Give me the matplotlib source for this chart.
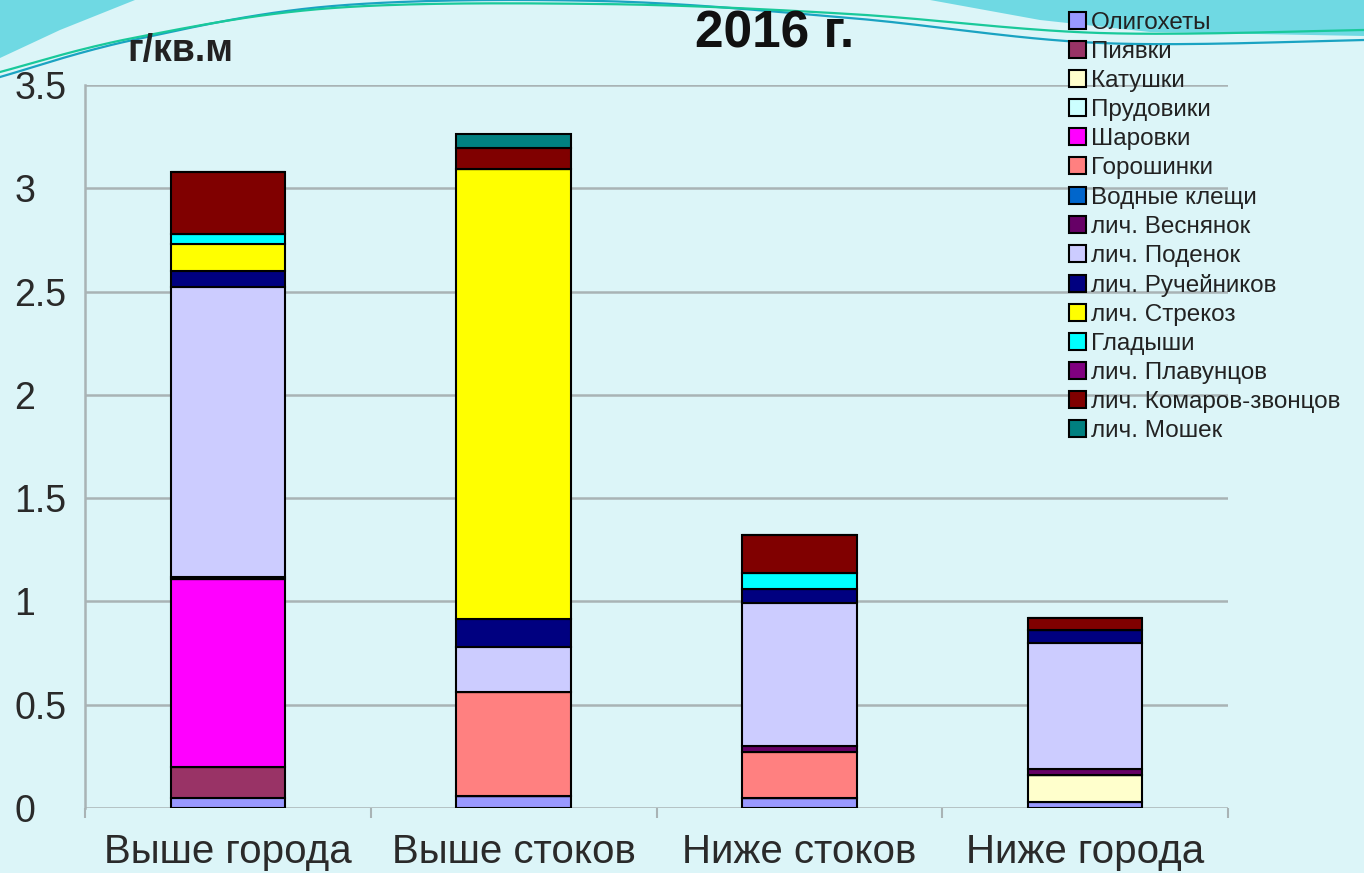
"""Stacked bar chart: biomass of benthic groups, 2016 (г/кв.м)."""
import numpy as np
import matplotlib

matplotlib.use("Agg")
import matplotlib.pyplot as plt  # noqa: E402
from matplotlib.lines import Line2D  # noqa: E402
from matplotlib.patches import Polygon  # noqa: E402

plt.rcParams["font.family"] = ["Liberation Sans", "DejaVu Sans"]

# --- data -----------------------------------------------------------------
sites = ["Выше города", "Выше стоков", "Ниже стоков", "Ниже города"]

oligochaeta = [0.05, 0.06, 0.05, 0.03]
leeches = [0.15, 0.0, 0.0, 0.0]
planorbis = [0.0, 0.0, 0.0, 0.13]
lymnaea = [0.0, 0.0, 0.0, 0.0]
sphaerium = [0.91, 0.0, 0.0, 0.0]
pisidium = [0.0, 0.50, 0.22, 0.0]
water_mites = [0.0, 0.0, 0.0, 0.0]
stoneflies = [0.01, 0.0, 0.03, 0.03]
mayflies = [1.40, 0.22, 0.69, 0.61]
caddisflies = [0.08, 0.135, 0.07, 0.06]
dragonflies = [0.13, 2.18, 0.0, 0.0]
backswimmers = [0.05, 0.0, 0.08, 0.0]
diving_beetles = [0.0, 0.0, 0.0, 0.0]
chironomids = [0.30, 0.10, 0.18, 0.06]
blackflies = [0.0, 0.07, 0.0, 0.0]

groups = [
    ("Олигохеты", oligochaeta, "#9999FF"),
    ("Пиявки", leeches, "#993366"),
    ("Катушки", planorbis, "#FFFFCC"),
    ("Прудовики", lymnaea, "#CCFFFF"),
    ("Шаровки", sphaerium, "#FF00FF"),
    ("Горошинки", pisidium, "#FF8080"),
    ("Водные клещи", water_mites, "#0066CC"),
    ("лич. Веснянок", stoneflies, "#660066"),
    ("лич. Поденок", mayflies, "#CCCCFF"),
    ("лич. Ручейников", caddisflies, "#000080"),
    ("лич. Стрекоз", dragonflies, "#FFFF00"),
    ("Гладыши", backswimmers, "#00FFFF"),
    ("лич. Плавунцов", diving_beetles, "#800080"),
    ("лич. Комаров-звонцов", chironomids, "#800000"),
    ("лич. Мошек", blackflies, "#008080"),
]

BG = "#DCF5F8"
W, H = 1364, 873


def catmull_rom(pts, n=30):
    """Smooth curve through pixel points (decoration only)."""
    pts = np.asarray(pts, float)
    pts = np.vstack([pts[0], pts, pts[-1]])
    out = []
    for i in range(1, len(pts) - 2):
        p0, p1, p2, p3 = pts[i - 1], pts[i], pts[i + 1], pts[i + 2]
        for t in np.linspace(0, 1, n, endpoint=False):
            out.append(0.5 * ((2 * p1) + (-p0 + p2) * t
                              + (2 * p0 - 5 * p1 + 4 * p2 - p3) * t ** 2
                              + (-p0 + 3 * p1 - 3 * p2 + p3) * t ** 3))
    out.append(pts[-2])
    out = np.array(out)
    return out[:, 0] / W, 1 - out[:, 1] / H


fig = plt.figure(figsize=(W / 100, H / 100), dpi=100, facecolor=BG)

# slide decoration at the top
for poly in ([(0, 0), (0, 58), (60, 30), (135, 0)],
             [(930, 0), (1040, 20), (1150, 32), (1364, 36), (1364, 0)]):
    px = np.array(poly, float)
    fig.add_artist(Polygon(np.c_[px[:, 0] / W, 1 - px[:, 1] / H],
                           closed=True, color="#6FD9E3", lw=0,
                           transform=fig.transFigure, zorder=0))
bx, by = catmull_rom([(0, 77), (133, 40), (333, 6), (600, 1), (850, 18),
                      (1100, 43), (1364, 40)])
gx, gy = catmull_rom([(0, 72), (133, 38), (333, 8), (600, 4), (850, 14),
                      (1100, 33), (1364, 30)])
fig.add_artist(Line2D(bx, by, color="#1AA3C2", lw=1.6, zorder=1))
fig.add_artist(Line2D(gx, gy, color="#19C99A", lw=1.6, zorder=1))

ax = fig.add_axes([85 / W, 1 - 808 / H, (1228 - 85) / W, (808 - 85) / H])
ax.set_facecolor("none")

x = np.arange(len(sites))
bottom = np.zeros(len(sites))
for label, vals, color in groups:
    vals = np.asarray(vals)
    ax.bar(x, vals, width=0.40, bottom=bottom, color=color, label=label,
           edgecolor="black", linewidth=1.5, zorder=3)
    bottom += vals

ax.set_xlim(-0.5, len(sites) - 0.5)
ax.set_ylim(0, 3.5)
ax.set_yticks(np.arange(0, 3.51, 0.5))
ax.set_yticklabels([f"{v:g}" for v in np.arange(0, 3.51, 0.5)])
ax.set_xticks(x, sites)
ax.set_xticks(np.arange(-0.5, len(sites)), minor=True)
ax.yaxis.grid(True, color="#A9B3B5", linewidth=1.8, zorder=0)
for s in ("top", "right", "bottom"):
    ax.spines[s].set_visible(False)
ax.spines["left"].set_color("#A9B3B5")
ax.spines["left"].set_linewidth(1.8)
ax.tick_params(axis="y", length=0, pad=51, labelsize=27, labelcolor="#2A2A2A")
for t in ax.get_yticklabels():
    t.set_horizontalalignment("left")
ax.tick_params(axis="x", which="major", length=0, pad=18, labelsize=29,
               labelcolor="#2A2A2A")
ax.tick_params(axis="x", which="minor", length=7, color="#A9B3B5", width=1.5)

fig.text(775 / W, 1 - 34 / H, "2016 г.", fontsize=37, fontweight="bold",
         ha="center", va="center", color="#111111")
fig.text(180 / W, 1 - 51 / H, "г/кв.м", fontsize=27, fontweight="bold",
         ha="center", va="center", color="#222222")

fig.legend(loc="upper left", bbox_to_anchor=(1057 / W, 1 - 0 / H),
           frameon=False, fontsize=17.5, labelspacing=0.29, handlelength=0.7,
           handleheight=0.7, handletextpad=0.2, borderpad=0,
           labelcolor="#222222")

fig.savefig("out.png", dpi=100, facecolor=BG)
